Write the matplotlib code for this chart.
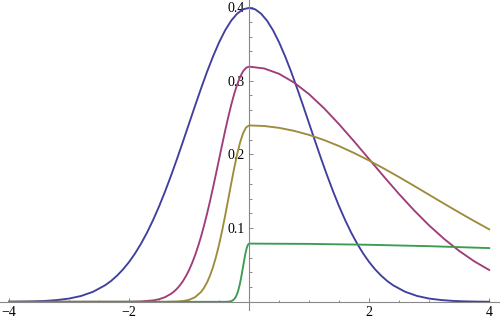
import numpy as np
import matplotlib.pyplot as plt
from matplotlib.ticker import MultipleLocator, FixedLocator

# Values (x, y) for each curve
blue_x = [-4.0, -3.8, -3.6, -3.4, -3.2, -3.0, -2.8, -2.6, -2.4, -2.3, -2.2, -2.1, -2.0,
          -1.9, -1.8, -1.7, -1.6, -1.5, -1.4, -1.3, -1.2, -1.1, -1.0,
          -0.9, -0.8, -0.7, -0.6, -0.5, -0.4, -0.3, -0.2, -0.1, 0.0,
          0.1, 0.2, 0.3, 0.4, 0.5, 0.6, 0.7, 0.8, 0.9, 1.0,
          1.1, 1.2, 1.3, 1.4, 1.5, 1.6, 1.7, 1.8, 1.9, 2.0,
          2.1, 2.2, 2.3, 2.4, 2.6, 2.8, 3.0, 3.2, 3.4, 3.6, 3.8, 4.0]
blue_y = [0.0001, 0.0003, 0.0006, 0.0012, 0.0024, 0.0044, 0.0079, 0.0136, 0.0224, 0.0283, 0.0355, 0.0440, 0.0540,
          0.0656, 0.0790, 0.0940, 0.1109, 0.1295, 0.1497, 0.1714, 0.1942, 0.2179, 0.2420,
          0.2661, 0.2897, 0.3123, 0.3332, 0.3521, 0.3683, 0.3814, 0.3910, 0.3970, 0.3989,
          0.3970, 0.3910, 0.3814, 0.3683, 0.3521, 0.3332, 0.3123, 0.2897, 0.2661, 0.2420,
          0.2179, 0.1942, 0.1714, 0.1497, 0.1295, 0.1109, 0.0940, 0.0790, 0.0656, 0.0540,
          0.0440, 0.0355, 0.0283, 0.0224, 0.0136, 0.0079, 0.0044, 0.0024, 0.0012, 0.0006, 0.0003, 0.0001]

magenta_x = [-4.0, -2.0, -1.8, -1.6, -1.5, -1.4, -1.3, -1.25, -1.2, -1.15, -1.1, -1.05, -1.0,
             -0.95, -0.9, -0.85, -0.8, -0.75, -0.7, -0.65, -0.6, -0.55, -0.5, -0.45, -0.4,
             -0.35, -0.3, -0.25, -0.2, -0.15, -0.1, -0.05, 0.0,
             0.25, 0.5, 0.75, 1.0, 1.25, 1.5, 1.75, 2.0, 2.25, 2.5,
             2.75, 3.0, 3.25, 3.5, 3.75, 4.0]
magenta_y = [0.0, 0.0001, 0.0005, 0.0019, 0.0035, 0.0063, 0.0109, 0.0140, 0.0179, 0.0227, 0.0284, 0.0352, 0.0432,
             0.0525, 0.0632, 0.0753, 0.0887, 0.1036, 0.1198, 0.1371, 0.1554, 0.1743, 0.1936, 0.2129, 0.2318,
             0.2498, 0.2666, 0.2817, 0.2947, 0.3052, 0.3129, 0.3176, 0.3192,
             0.3167, 0.3094, 0.2975, 0.2817, 0.2626, 0.2409, 0.2177, 0.1936, 0.1695, 0.1461,
             0.1240, 0.1036, 0.0853, 0.0691, 0.0550, 0.0432]

olive_x = [-4.0, -1.4, -1.2, -1.1, -1.0, -0.9, -0.8, -0.75, -0.7, -0.65, -0.6, -0.55,
           -0.5, -0.45, -0.4, -0.35, -0.3, -0.25, -0.2, -0.15, -0.1, -0.05, 0.0,
           0.25, 0.5, 0.75, 1.0, 1.25, 1.5, 1.75, 2.0, 2.25, 2.5, 2.75, 3.0, 3.25, 3.5, 3.75, 4.0]
olive_y = [0.0, 0.0, 0.0004, 0.0010, 0.0027, 0.0063, 0.0134, 0.0191, 0.0264, 0.0358, 0.0474, 0.0614,
           0.0777, 0.0962, 0.1165, 0.1380, 0.1597, 0.1807, 0.2000, 0.2163, 0.2289, 0.2367, 0.2394,
           0.2386, 0.2361, 0.2320, 0.2265, 0.2195, 0.2113, 0.2019, 0.1917, 0.1807, 0.1692, 0.1573,
           0.1452, 0.1331, 0.1212, 0.1096, 0.0984]

green_x = [-4.0, -0.4, -0.35, -0.30, -0.28, -0.26, -0.24, -0.22, -0.20, -0.18, -0.16,
           -0.14, -0.12, -0.10, -0.08, -0.06, -0.04, -0.02, 0.0, 1.0, 2.0, 3.0, 4.0]
green_y = [0.0, 0.0, 0.0002, 0.0009, 0.0016, 0.0027, 0.0044, 0.0070, 0.0107, 0.0156, 0.0220,
           0.0296, 0.0385, 0.0479, 0.0574, 0.0660, 0.0729, 0.0774, 0.0790, 0.0786, 0.0774, 0.0755, 0.0729]

x_labels = [-4, -2, 2, 4]
y_labels = [0.1, 0.2, 0.3, 0.4]

colors = ["#3f3f9e", "#a03c78", "#9c8c3c", "#3c9c50"]

plt.rcParams['font.family'] = ['Liberation Serif', 'DejaVu Serif']

fig = plt.figure(figsize=(5.0, 3.22), dpi=100)
ax = fig.add_axes([0, 0, 1, 1])

for xs, ys, c in [(blue_x, blue_y, colors[0]), (magenta_x, magenta_y, colors[1]),
                  (olive_x, olive_y, colors[2]), (green_x, green_y, colors[3])]:
    ax.plot(xs, ys, color=c, lw=1.35, solid_joinstyle='round', clip_on=False)

ax.set_xlim(-4.15, 4.18)
ax.set_ylim(-0.0274, 0.4096)

for s in ['top', 'right']:
    ax.spines[s].set_visible(False)
ax.spines['left'].set_position(('data', 0))
ax.spines['bottom'].set_position(('data', 0))
for s in ['left', 'bottom']:
    ax.spines[s].set_color('#888888')
    ax.spines[s].set_linewidth(0.8)
ax.spines['bottom'].set_bounds(-4.15, 4.18)
ax.spines['left'].set_bounds(-0.011, 0.4096)

ax.xaxis.set_major_locator(FixedLocator(x_labels))
ax.xaxis.set_minor_locator(MultipleLocator(0.5))
ax.yaxis.set_major_locator(FixedLocator(y_labels))
ax.yaxis.set_minor_locator(FixedLocator(np.arange(0.02, 0.41, 0.02)))
ax.set_xticklabels(['\u2212' + str(-v) if v < 0 else str(v) for v in x_labels])
ax.set_yticklabels([f"{v:.1f}" for v in y_labels])

ax.tick_params(which='both', direction='in', color='#888888', width=0.7,
               labelsize=10, labelcolor='black')
ax.tick_params(which='major', length=3.2, pad=3)
ax.tick_params(which='minor', length=1.8)

fig.savefig('out.png', dpi=100)
